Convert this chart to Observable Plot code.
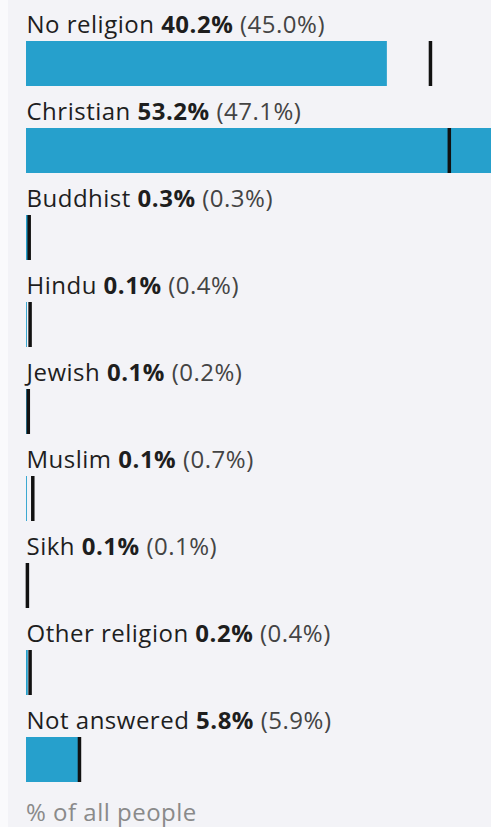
<!DOCTYPE html>
<html>
<head>
<meta charset="utf-8">
<script src="https://cdn.jsdelivr.net/npm/d3@7"></script>
<script src="https://cdn.jsdelivr.net/npm/@observablehq/plot@0.6"></script>
<style>
  html, body { margin: 0; padding: 0; background: #fafafc; }
  #wrap { margin-left: 8px; width: 483px; height: 827px; background: #f3f3f7; overflow: hidden; font-family: "Open Sans", sans-serif; }
  #caption { margin-left: 18px; margin-top: 7px; font-size: 24px; letter-spacing: 0.5px; line-height: 30px; color: #8a8a8a; }
</style>
</head>
<body>
<div id="wrap"><div id="chart"></div><div id="caption">% of all people</div></div>
<script>
const categories = ["No religion", "Christian", "Buddhist", "Hindu", "Jewish", "Muslim", "Sikh", "Other religion", "Not answered"];
const values = [40.2, 53.2, 0.3, 0.1, 0.1, 0.1, 0.1, 0.2, 5.8];
const comparison = [45.0, 47.1, 0.3, 0.4, 0.2, 0.7, 0.1, 0.4, 5.9];

const data = categories.map((c, i) => ({category: c, value: values[i], comparison: comparison[i]}));
const NS = "http://www.w3.org/2000/svg";

function richLabels(index, scales, vals, dims, ctx, next) {
  const g = next(index, scales, vals, dims, ctx);
  g.querySelectorAll("text").forEach((t, j) => {
    const d = data[index[j]];
    t.textContent = "";
    const parts = [
      [d.category + " ", "400", "#1e1e1e"],
      [d.value.toFixed(1) + "%", "700", "#1e1e1e"],
      [" (" + d.comparison.toFixed(1) + "%)", "400", "#444"]
    ];
    for (const [s, w, f] of parts) {
      const ts = document.createElementNS(NS, "tspan");
      ts.setAttribute("font-weight", w);
      ts.setAttribute("fill", f);
      ts.textContent = s;
      t.appendChild(ts);
    }
  });
  return g;
}

const chart = Plot.plot({
  width: 483,
  height: 790,
  marginLeft: 18,
  marginRight: 0,
  marginTop: 0,
  marginBottom: 0,
  style: {background: "transparent", fontFamily: "Open Sans, sans-serif"},
  x: {domain: [0, 51.8], axis: null},
  y: {domain: categories, range: [41, 782], paddingInner: 42 / 87, paddingOuter: 0, axis: null},
  marks: [
    Plot.barX(data, {x: "value", y: "category", fill: "#26a0cc", clip: true}),
    Plot.tickX(data, {x: "comparison", y: "category", stroke: "#111", strokeWidth: 3.5}),
    Plot.text(data, {x: () => 0, y: "category", text: "category", textAnchor: "start", lineAnchor: "bottom", dy: -31.5, fontSize: 24, fill: "#1e1e1e", render: richLabels})
  ]
});
chart.querySelectorAll("text").forEach(t => t.style.letterSpacing = "0.5px");
document.getElementById("chart").appendChild(chart);
</script>
</body>
</html>
